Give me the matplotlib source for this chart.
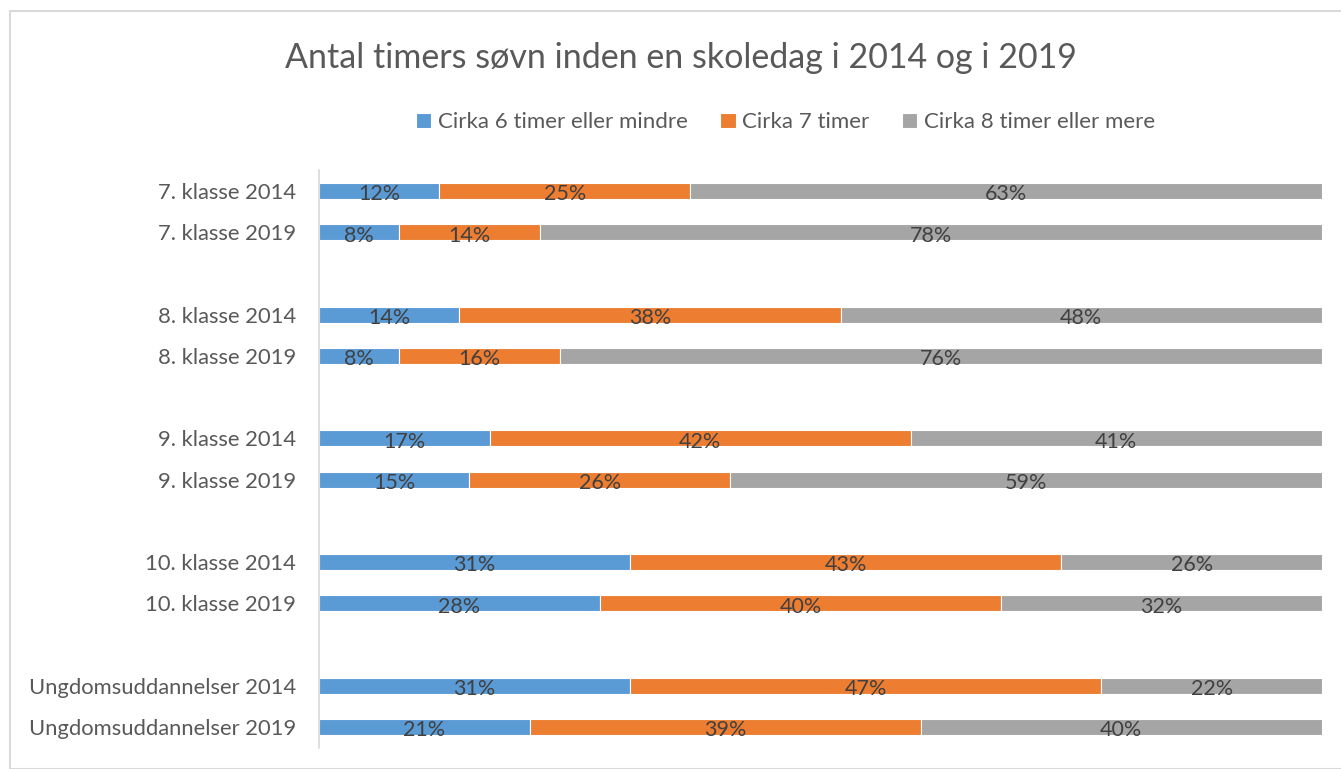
import numpy as np
import matplotlib
matplotlib.use("Agg")
import matplotlib.pyplot as plt
from matplotlib.patches import Rectangle

plt.rcParams['font.family'] = ['Lato', 'DejaVu Sans']

categories = ["7. klasse 2014", "7. klasse 2019",
              "8. klasse 2014", "8. klasse 2019",
              "9. klasse 2014", "9. klasse 2019",
              "10. klasse 2014", "10. klasse 2019",
              "Ungdomsuddannelser 2014", "Ungdomsuddannelser 2019"]
six_or_less = [12, 8, 14, 8, 17, 15, 31, 28, 31, 21]
seven = [25, 14, 38, 16, 42, 26, 43, 40, 47, 39]
eight_or_more = [63, 78, 48, 76, 41, 59, 26, 32, 22, 40]
series_names = ["Cirka 6 timer eller mindre", "Cirka 7 timer", "Cirka 8 timer eller mere"]
colors = ["#5B9BD5", "#ED7D31", "#A5A5A5"]

# rows in pairs with an empty slot between groups
ypos = np.array([0, 1, 3, 4, 6, 7, 9, 10, 12, 13])

fig = plt.figure(figsize=(13.41, 7.69), dpi=100)
ax = fig.add_axes([0.2379, 0.0278, 0.9858 - 0.2379, 0.7506])

left = np.zeros(len(categories))
for vals, name, col in zip([six_or_less, seven, eight_or_more], series_names, colors):
    vals = np.array(vals, dtype=float)
    ax.barh(ypos, vals, left=left, height=0.39, color=col, edgecolor='white',
            linewidth=0.8, label=name)
    for y, l, v in zip(ypos, left, vals):
        ax.text(l + v / 2, y + 0.08, f"{int(v)}%", ha='center', va='center',
                fontsize=15.5, color='#404040')
    left += vals

ax.set_xlim(0, left.max())
ax.set_ylim(13.5, -0.5)
ax.set_yticks(ypos)
ax.set_yticklabels(categories, fontsize=15.8, color='#595959')
ax.tick_params(axis='y', length=0, pad=16.5)
ax.set_xticks([])
for s in ['top', 'right', 'bottom']:
    ax.spines[s].set_visible(False)
ax.spines['left'].set_color('#D9D9D9')
ax.spines['left'].set_linewidth(1.2)

fig.text(0.508, 0.925, "Antal timers søvn inden en skoledag i 2014 og i 2019",
         ha='center', va='center', fontsize=24.5, color='#595959')

leg = fig.legend(loc='center', bbox_to_anchor=(0.5857, 0.841), ncol=3, frameon=False,
                 fontsize=16, handlelength=0.7, handleheight=0.7, handletextpad=0.3,
                 columnspacing=1.45)
for t in leg.get_texts():
    t.set_color('#595959')

fig.patches.append(Rectangle((9.5 / 1341, 0), 2, 1 - 10.5 / 769, transform=fig.transFigure,
                             fill=False, edgecolor='#D9D9D9', linewidth=1.5))

fig.savefig("out.png", dpi=100)
